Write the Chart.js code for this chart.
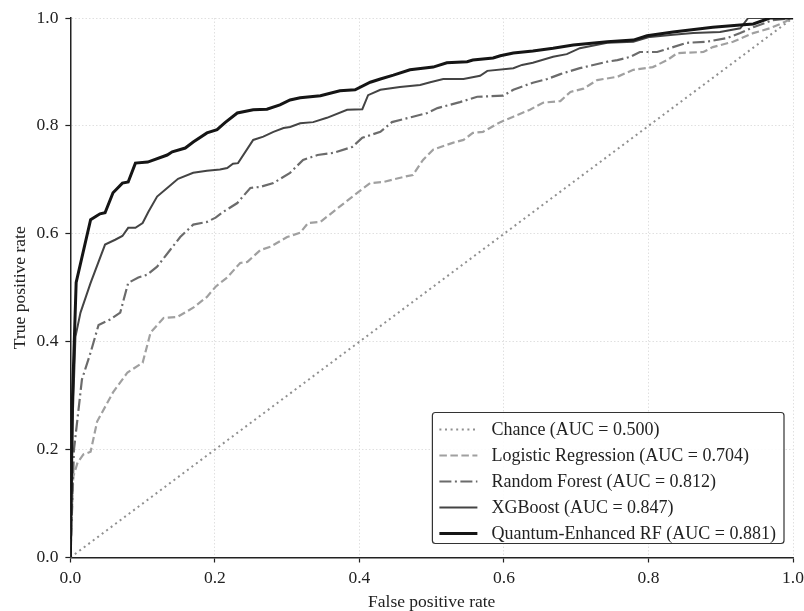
<!DOCTYPE html>
<html>
<head>
<meta charset="utf-8">
<script src="https://cdn.jsdelivr.net/npm/chart.js@4"></script>
<style>
  body { margin: 0; background: #fff; }
  canvas { display: block; }
</style>
</head>
<body>
<canvas id="rocChart" width="804" height="611"></canvas>
<script>
/* DATA */
var chanceFpr = [0, 1];
var chanceTpr = [0, 1];

var lrFpr = [0, 0.004, 0.010, 0.018, 0.028, 0.037, 0.059, 0.079, 0.100, 0.111, 0.129, 0.148, 0.170, 0.189, 0.201, 0.217, 0.235, 0.245, 0.263, 0.277, 0.300, 0.318, 0.329, 0.346, 0.397, 0.415, 0.433, 0.466, 0.474, 0.488, 0.502, 0.530, 0.544, 0.557, 0.571, 0.595, 0.613, 0.636, 0.654, 0.678, 0.692, 0.710, 0.729, 0.757, 0.779, 0.806, 0.826, 0.840, 0.876, 0.889, 0.917, 0.945, 0.968, 0.986, 1];
var lrTpr = [0, 0.150, 0.176, 0.191, 0.196, 0.252, 0.306, 0.343, 0.361, 0.417, 0.444, 0.446, 0.463, 0.483, 0.502, 0.519, 0.546, 0.548, 0.570, 0.576, 0.594, 0.602, 0.620, 0.622, 0.676, 0.694, 0.696, 0.707, 0.709, 0.737, 0.756, 0.769, 0.774, 0.787, 0.789, 0.807, 0.817, 0.830, 0.843, 0.846, 0.863, 0.869, 0.885, 0.891, 0.904, 0.909, 0.922, 0.935, 0.937, 0.946, 0.956, 0.972, 0.981, 0.991, 1];

var rfFpr = [0, 0.005, 0.016, 0.028, 0.039, 0.055, 0.069, 0.080, 0.094, 0.106, 0.120, 0.138, 0.152, 0.170, 0.189, 0.201, 0.212, 0.231, 0.249, 0.263, 0.281, 0.304, 0.322, 0.342, 0.364, 0.390, 0.404, 0.429, 0.445, 0.474, 0.494, 0.508, 0.539, 0.563, 0.599, 0.613, 0.640, 0.660, 0.678, 0.705, 0.743, 0.757, 0.775, 0.788, 0.812, 0.834, 0.853, 0.881, 0.909, 0.927, 0.945, 0.972, 1];
var rfTpr = [0, 0.200, 0.330, 0.380, 0.431, 0.441, 0.454, 0.509, 0.519, 0.524, 0.539, 0.570, 0.594, 0.617, 0.622, 0.630, 0.641, 0.657, 0.685, 0.687, 0.694, 0.713, 0.737, 0.746, 0.750, 0.761, 0.778, 0.789, 0.807, 0.817, 0.824, 0.833, 0.844, 0.854, 0.856, 0.867, 0.880, 0.887, 0.896, 0.907, 0.919, 0.922, 0.928, 0.937, 0.937, 0.946, 0.954, 0.956, 0.963, 0.972, 0.983, 0.996, 1];

var xgbFpr = [0, 0.003, 0.007, 0.014, 0.028, 0.048, 0.062, 0.072, 0.080, 0.090, 0.100, 0.108, 0.120, 0.134, 0.149, 0.170, 0.189, 0.207, 0.217, 0.225, 0.232, 0.253, 0.267, 0.281, 0.295, 0.304, 0.318, 0.336, 0.355, 0.383, 0.404, 0.412, 0.429, 0.456, 0.484, 0.498, 0.516, 0.544, 0.567, 0.577, 0.613, 0.625, 0.640, 0.668, 0.687, 0.705, 0.743, 0.779, 0.802, 0.834, 0.862, 0.899, 0.927, 0.938, 1];
var xgbTpr = [0, 0.250, 0.409, 0.454, 0.509, 0.580, 0.589, 0.596, 0.611, 0.611, 0.620, 0.641, 0.669, 0.685, 0.702, 0.713, 0.717, 0.719, 0.722, 0.730, 0.731, 0.774, 0.780, 0.789, 0.796, 0.798, 0.805, 0.807, 0.815, 0.830, 0.831, 0.857, 0.867, 0.872, 0.876, 0.881, 0.887, 0.887, 0.893, 0.902, 0.907, 0.913, 0.917, 0.928, 0.933, 0.944, 0.954, 0.956, 0.965, 0.969, 0.972, 0.974, 0.981, 1, 1];

var qrfFpr = [0, 0.003, 0.008, 0.028, 0.041, 0.048, 0.059, 0.072, 0.080, 0.090, 0.107, 0.134, 0.141, 0.159, 0.170, 0.189, 0.203, 0.214, 0.231, 0.253, 0.272, 0.290, 0.304, 0.318, 0.346, 0.373, 0.394, 0.415, 0.429, 0.447, 0.470, 0.502, 0.521, 0.549, 0.557, 0.585, 0.595, 0.613, 0.640, 0.668, 0.696, 0.743, 0.779, 0.798, 0.834, 0.889, 0.927, 0.945, 0.968, 1];
var qrfTpr = [0, 0.300, 0.510, 0.626, 0.637, 0.639, 0.676, 0.694, 0.696, 0.731, 0.733, 0.746, 0.752, 0.759, 0.770, 0.787, 0.793, 0.806, 0.824, 0.830, 0.831, 0.839, 0.848, 0.852, 0.856, 0.865, 0.867, 0.881, 0.887, 0.894, 0.904, 0.909, 0.917, 0.919, 0.922, 0.926, 0.930, 0.935, 0.939, 0.944, 0.950, 0.956, 0.959, 0.967, 0.974, 0.983, 0.987, 0.989, 1, 1];

var tickValues = [0, 0.2, 0.4, 0.6, 0.8, 1.0];

function toPoints(xs, ys) {
	return xs.map(function (x, i) { return { x: x, y: ys[i] }; });
}

var serif = '"Liberation Serif", "DejaVu Serif", serif';
var tickFont = { family: serif, size: 17.5 };
var titleFont = { family: serif, size: 17.5, lineHeight: 1 };

/* LEGEND INSIDE THE PLOT (bottom right, like matplotlib) */
var insideLegend = {
	id: 'insideLegend',
	afterDatasetsDraw: function (chart) {
		var ctx = chart.ctx;
		var area = chart.chartArea;
		var sets = chart.data.datasets;
		ctx.save();
		ctx.font = '18px ' + serif;
		var maxW = 0;
		sets.forEach(function (d) { maxW = Math.max(maxW, ctx.measureText(d.label).width); });
		var rowH = 26;
		var w = 59 + maxW + 8;
		var h = rowH * sets.length + 1;
		var x0 = area.right - 9 - w;
		var y0 = area.bottom - 14 - h;

		ctx.beginPath();
		ctx.roundRect(x0, y0, w, h, 3);
		ctx.fillStyle = 'rgba(255,255,255,0.9)';
		ctx.fill();
		ctx.lineWidth = 1.2;
		ctx.strokeStyle = '#333';
		ctx.stroke();

		sets.forEach(function (d, i) {
			var cy = y0 + 17 + i * rowH;
			ctx.beginPath();
			ctx.setLineDash(d.borderDash || []);
			ctx.lineWidth = d.borderWidth;
			ctx.strokeStyle = d.borderColor;
			ctx.moveTo(x0 + 7, cy);
			ctx.lineTo(x0 + 45, cy);
			ctx.stroke();
			ctx.setLineDash([]);
			ctx.fillStyle = '#222';
			ctx.textBaseline = 'middle';
			ctx.textAlign = 'left';
			ctx.fillText(d.label, x0 + 59, cy + 1);
		});
		ctx.restore();
	}
};

function axis(title, tickPad, titlePad) {
	return {
		type: 'linear',
		min: 0,
		max: 1,
		afterBuildTicks: function (scale) {
			scale.ticks = tickValues.map(function (v) { return { value: v }; });
		},
		ticks: {
			callback: function (v) { return v.toFixed(1); },
			font: tickFont,
			color: '#222',
			padding: tickPad
		},
		title: { display: true, text: title, font: titleFont, color: '#222', padding: titlePad },
		grid: {
			color: '#d8d8d8',
			lineWidth: 0.8,
			tickColor: '#222',
			tickLength: 5,
			tickWidth: 1.2,
			tickBorderDash: []
		},
		border: { display: true, color: '#222', width: 1.5, dash: [1.5, 2] }
	};
}

var xAxis = axis('False positive rate', 5, { top: 0, bottom: 0 });
// let the last tick label hang over the right edge like matplotlib does
xAxis.afterFit = function (scale) { scale.paddingRight = 11; };
var yAxis = axis('True positive rate', 7, { top: 2, bottom: 0 });

var ctxRoc = document.getElementById('rocChart').getContext('2d');
var rocChart = new Chart(ctxRoc, {
	type: 'line',
	data: {
		datasets: [{
			label: 'Chance (AUC = 0.500)',
			data: toPoints(chanceFpr, chanceTpr),
			borderColor: '#909090',
			borderWidth: 2,
			borderDash: [2, 3.6],
			order: 4
		}, {
			label: 'Logistic Regression (AUC = 0.704)',
			data: toPoints(lrFpr, lrTpr),
			borderColor: '#a0a0a0',
			borderWidth: 2.2,
			borderDash: [7.5, 3.5],
			order: 3
		}, {
			label: 'Random Forest (AUC = 0.812)',
			data: toPoints(rfFpr, rfTpr),
			borderColor: '#6b6b6b',
			borderWidth: 2.2,
			borderDash: [12, 3.5, 2, 3.5],
			order: 2
		}, {
			label: 'XGBoost (AUC = 0.847)',
			data: toPoints(xgbFpr, xgbTpr),
			borderColor: '#444444',
			borderWidth: 2,
			order: 1
		}, {
			label: 'Quantum-Enhanced RF (AUC = 0.881)',
			data: toPoints(qrfFpr, qrfTpr),
			borderColor: '#151515',
			borderWidth: 3,
			order: 0
		}]
	},
	options: {
		responsive: false,
		animation: false,
		layout: { padding: { top: 18, right: 0, left: 10, bottom: 0 } },
		elements: { point: { radius: 0 }, line: { tension: 0, fill: false } },
		plugins: {
			legend: { display: false },
			tooltip: { enabled: false }
		},
		scales: {
			x: xAxis,
			y: yAxis
		}
	},
	plugins: [insideLegend]
});
</script>
</body>
</html>
